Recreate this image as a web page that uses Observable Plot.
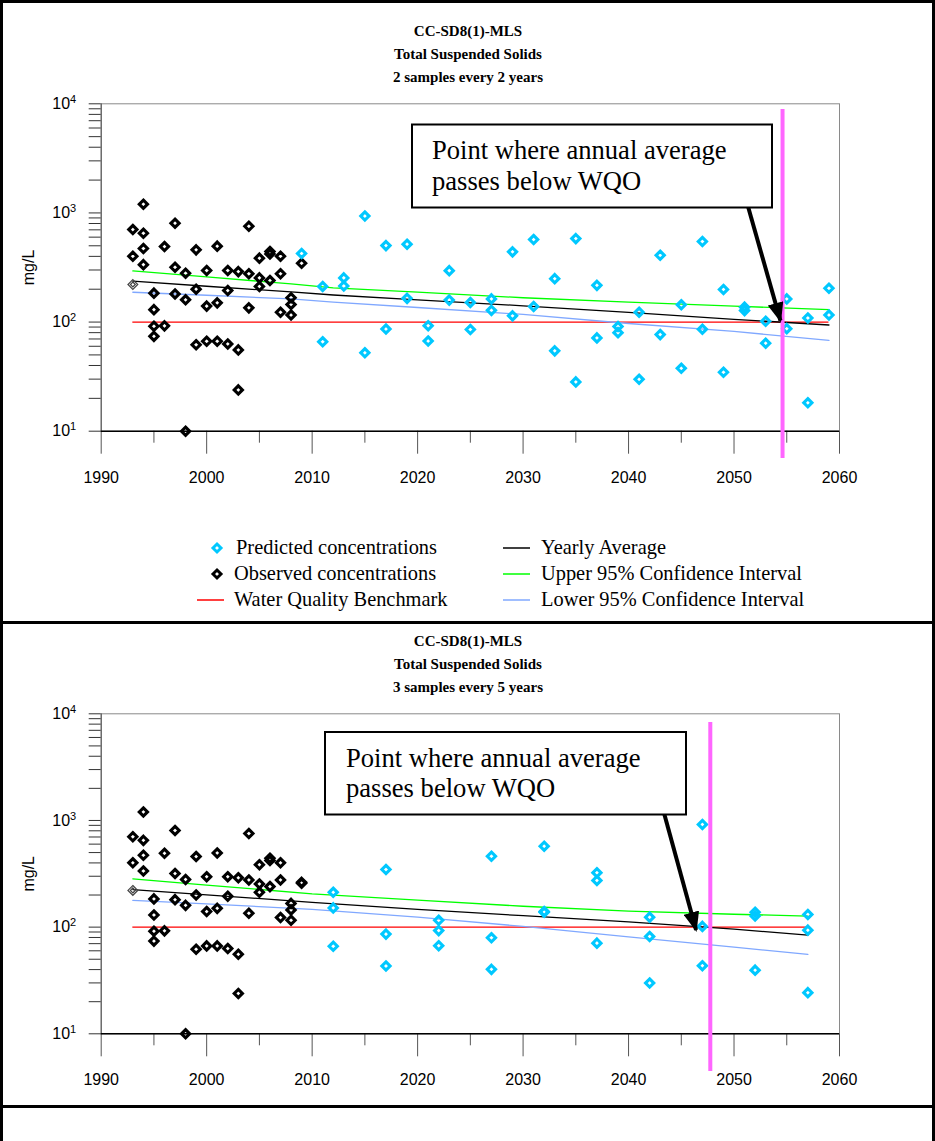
<!DOCTYPE html>
<html><head><meta charset="utf-8">
<script src="https://cdn.jsdelivr.net/npm/d3@7"></script>
<script src="https://cdn.jsdelivr.net/npm/@observablehq/plot@0.6"></script>
<style>
body{margin:0;background:#fff}
#page{position:relative;width:935px;height:1141px;overflow:hidden;background:#fff}
.panel{position:absolute;left:0;width:935px;box-sizing:border-box;border:3px solid #000}
svg.plotsvg{position:absolute;left:0}
svg#overlay{position:absolute;left:0;top:0}
</style></head><body><div id="page"></div>
<script>
// ---------- axis ticks ----------
const majorX = [1990, 2000, 2010, 2020, 2030, 2040, 2050, 2060];
const minorX = [1995, 2005, 2015, 2025, 2035, 2045, 2055];
const majorY = [10, 100, 1000, 10000];
const minorMult = [2, 3, 4, 5, 6, 7, 8, 9];

// ---------- observed concentrations (shared) ----------
const observedYear = [1993,1993,1994,1994,1994,1994,1995,1995,1995,1995,1996,1996,1997,1997,1997,1998,1998,1998,1999,1999,1999,2000,2000,2000,2001,2001,2001,2002,2002,2002,2003,2003,2003,2004,2004,2004,2005,2005,2005,2006,2006,2006,2007,2007,2007,2008,2008,2008];
const observedValue = [704,401,1202,651,472,336,184,130,91.6,74,492,92.3,805,318,181,280,160,10,459,200,62,297,140,66.7,496,150,66.7,297,194.5,63,290,55.6,23.9,755,277,135,385,254,212,443,421,240,401,277,123,167,145,116];
const firstYear = 1993, firstValue = 221;
const benchmark = 100, benchmarkStart = 1993;

// ---------- panel 1: 2 samples every 2 years ----------
const obs2009Panel1 = [346];
const pred1Year = [2009,2011,2011,2013,2013,2015,2015,2017,2017,2019,2019,2021,2021,2023,2023,2025,2025,2027,2027,2029,2029,2031,2031,2033,2033,2035,2035,2037,2037,2039,2039,2041,2041,2043,2043,2045,2045,2047,2047,2049,2049,2051,2051,2053,2053,2055,2055,2057,2057,2059,2059];
const pred1Value = [425,212,66,254,214,936,52.3,502,86.3,517,165,92.6,67,296,159,151,85.5,163,128,440,114,570,139,250,54.5,582,28.3,217,71.6,91,80,123,29.9,409,76.8,144,37.7,547,86,199,34.7,137,127.4,101.7,64,163,87,109,18.2,204,116];
const trend1Year = [1993, 2000, 2008, 2012, 2020, 2030, 2040, 2050, 2059];
const avg1 = [237, 213, 189, 177, 160, 141, 122.5, 106, 94];
const upper1 = [294, 259, 224, 206, 188, 167, 152, 140, 130];
const lower1 = [187.5, 176, 163, 152, 136, 117.5, 97, 82, 68];
const cross1 = 2054.6;
const arrow1 = [2051.3, 1169, 2054.4, 103];

// ---------- panel 2: 3 samples every 5 years ----------
const obs2009Panel2 = [258, 263];
const pred2Year = [2012,2012,2012,2017,2017,2017,2022,2022,2022,2027,2027,2027,2032,2032,2032,2037,2037,2037,2042,2042,2042,2047,2047,2047,2052,2052,2052,2057,2057,2057];
const pred2Value = [212,151.5,66.2,347,86,43.2,116,92.8,67,462,79.5,40.2,574,140,138,324,274,70.8,124,81.8,29.9,918,101.6,43.5,138,127,39.5,131.5,93.7,24.3];
const trend2Year = [1993, 2000, 2010, 2020, 2030, 2040, 2050, 2057];
const avg2 = [225, 201, 171, 147, 128, 112, 96, 84];
const upper2 = [284, 248, 205, 179, 157, 141, 132, 127];
const lower2 = [178, 165, 147, 124, 101.6, 81, 65, 55.5];
const cross2 = 2047.75;
const arrow2 = [2043.4, 1138, 2046.4, 94];

const titleLines1 = ["CC-SD8(1)-MLS", "Total Suspended Solids", "2 samples every 2 years"];
const titleLines2 = ["CC-SD8(1)-MLS", "Total Suspended Solids", "3 samples every 5 years"];
const noteLines = ["Point where annual average", "passes below WQO"];
const legendLeft = ["Predicted concentrations", "Observed concentrations", "Water Quality Benchmark"];
const legendRight = ["Yearly Average", "Upper 95% Confidence Interval", "Lower 95% Confidence Interval"];

const CYAN = "#00c8ff", GREEN = "#00ff00", BLUE = "#80a8ff", RED = "#ff0000", MAGENTA = "#ff66ff";
const page = document.getElementById("page");

// panel borders
[[0, 624], [621, 487], [1105, 60]].forEach(([t, h]) => {
  const d = document.createElement("div");
  d.className = "panel"; d.style.top = t + "px"; d.style.height = h + "px";
  page.appendChild(d);
});

function makePlot(p) {
  const obs = observedYear.map((x, i) => ({x, y: observedValue[i]}))
    .concat(p.obs2009.map(y => ({x: 2009, y})));
  const pred = p.predYear.map((x, i) => ({x, y: p.predValue[i]}));
  const trend = p.trendYear.map((x, i) => ({x, avg: p.avg[i], upper: p.upper[i], lower: p.lower[i]}));
  const minorY = majorY.slice(0, -1).flatMap(d => minorMult.map(k => k * d));
  const svg = Plot.plot({
    width: 935, height: 400,
    marginLeft: 100.7, marginRight: 96, marginTop: 13.3, marginBottom: p.marginBottom,
    x: {domain: [1990, 2060], axis: null},
    y: {type: "log", domain: [10, 10000], axis: null},
    style: {fontFamily: '"Liberation Sans", Arial, sans-serif', fontSize: "16px", color: "#000", background: "transparent", overflow: "visible"},
    marks: [
      Plot.frame({stroke: "#8a8a8a"}),
      Plot.ruleX([1990], {stroke: "#505050"}),
      Plot.axisY({ticks: minorY, tickSize: 12, tickFormat: () => "", stroke: "#333", label: null}),
      Plot.axisY({ticks: majorY, tickSize: 12, tickPadding: 13, tickFormat: d => "10^" + Math.round(Math.log10(d)),
        stroke: "#333", label: "mg/L", labelAnchor: "center", labelArrow: "none", labelOffset: 79}),
      Plot.axisX({ticks: minorX, tickSize: 12, tickFormat: () => "", stroke: "#555", label: null}),
      Plot.axisX({ticks: majorX, tickSize: 23, tickPadding: 17, tickFormat: d => String(d), stroke: "#555", label: null}),
      Plot.ruleY([10], {stroke: "#000", strokeWidth: 1.5}),
      Plot.ruleY([benchmark], {x1: benchmarkStart, x2: p.trendYear[p.trendYear.length - 1], stroke: RED, strokeWidth: 1.3}),
      Plot.line(trend, {x: "x", y: "upper", stroke: GREEN, strokeWidth: 1.3}),
      Plot.line(trend, {x: "x", y: "lower", stroke: BLUE, strokeWidth: 1.3}),
      Plot.line(trend, {x: "x", y: "avg", stroke: "#000", strokeWidth: 1.3}),
      Plot.dot(obs, {x: "x", y: "y", symbol: "diamond2", r: 3.7, stroke: "#000", strokeWidth: 3.1}),
      Plot.dot(pred, {x: "x", y: "y", symbol: "diamond2", r: 3.7, stroke: CYAN, strokeWidth: 3.1}),
      Plot.dot([{x: firstYear, y: firstValue}], {x: "x", y: "y", symbol: "diamond2", r: 4.4, stroke: "#444", strokeWidth: 1.2}),
      Plot.dot([{x: firstYear, y: firstValue}], {x: "x", y: "y", symbol: "diamond2", r: 2.2, stroke: "#444", strokeWidth: 1.2}),
      Plot.ruleX([p.cross], {stroke: MAGENTA, strokeWidth: 4, insetTop: p.insetTop, insetBottom: p.insetBottom}),
      Plot.link([p.arrow], {x1: d => d[0], y1: d => d[1], x2: d => d[2], y2: d => d[3], stroke: "#000", strokeWidth: 4})
    ]
  });
  svg.classList.add("plotsvg");
  svg.style.top = p.svgTop + "px";
  // superscript tick labels
  d3.select(svg).selectAll('g[aria-label="y-axis tick label"] text').each(function () {
    const t = this.textContent;
    if (t.indexOf("^") < 0) return;
    const [base, exp] = t.split("^");
    const sel = d3.select(this);
    sel.text(null);
    sel.append("tspan").text(base);
    sel.append("tspan").attr("dy", "-0.55em").attr("font-size", "11px").text(exp);
  });
  // filled arrow head
  const defs = d3.select(svg).insert("defs", ":first-child");
  const id = "head" + p.svgTop;
  defs.append("marker").attr("id", id).attr("viewBox", "-18 -8 20 16")
    .attr("markerWidth", 20).attr("markerHeight", 16).attr("markerUnits", "userSpaceOnUse")
    .attr("refX", 0).attr("refY", 0).attr("orient", "auto")
    .append("path").attr("d", "M-18,-8L2,0L-18,8Z").attr("fill", "#000");
  d3.select(svg).selectAll('g[aria-label="link"] path').attr("marker-end", `url(#${id})`);
  page.appendChild(svg);
}

makePlot({svgTop: 90, marginBottom: 59.3, obs2009: obs2009Panel1, predYear: pred1Year, predValue: pred1Value,
  trendYear: trend1Year, avg: avg1, upper: upper1, lower: lower1, cross: cross1, insetTop: 5.7, insetBottom: -27.3, arrow: arrow1});
makePlot({svgTop: 700, marginBottom: 66.7, obs2009: obs2009Panel2, predYear: pred2Year, predValue: pred2Value,
  trendYear: trend2Year, avg: avg2, upper: upper2, lower: lower2, cross: cross2, insetTop: 8.7, insetBottom: -37.7, arrow: arrow2});

// ---------- overlay: titles, notes, legend ----------
const ov = d3.select(page).append("svg").attr("id", "overlay").attr("width", 935).attr("height", 1141)
  .attr("font-family", '"Liberation Serif", "Times New Roman", serif');
function titles(lines, baselines) {
  lines.forEach((s, i) => ov.append("text").attr("x", 468).attr("y", baselines[i]).attr("text-anchor", "middle")
    .attr("font-weight", "bold").attr("font-size", 15).text(s));
}
titles(titleLines1, [35.5, 58.5, 81.5]);
titles(titleLines2, [645.5, 668.5, 691.5]);
function note(box, tx, b1, b2) {
  ov.append("rect").attr("x", box[0]).attr("y", box[1]).attr("width", box[2]).attr("height", box[3])
    .attr("fill", "#fff").attr("stroke", "#000").attr("stroke-width", 2);
  ov.append("text").attr("x", tx).attr("y", b1).attr("font-size", 26.6).text(noteLines[0]);
  ov.append("text").attr("x", tx).attr("y", b2).attr("font-size", 26.6).text(noteLines[1]);
}
note([412, 124.5, 360, 83], 432, 159, 190);
note([325, 732, 361, 82.5], 346, 767, 797);

const rows = [548, 574, 600];
function diamond(g, x, y, color) {
  g.append("path").attr("d", `M${x},${y - 4}L${x + 4},${y}L${x},${y + 4}L${x - 4},${y}Z`)
    .attr("fill", "none").attr("stroke", color).attr("stroke-width", 3);
}
diamond(ov, 217, rows[0], CYAN);
diamond(ov, 217, rows[1], "#000");
ov.append("line").attr("x1", 197).attr("x2", 224).attr("y1", rows[2]).attr("y2", rows[2]).attr("stroke", RED).attr("stroke-width", 1.5);
[236, 234, 234].forEach((x, i) => ov.append("text").attr("x", x).attr("y", rows[i] + 6).attr("font-size", 20.4).text(legendLeft[i]));
[["#000"], [GREEN], [BLUE]].forEach(([c], i) => {
  ov.append("line").attr("x1", 503).attr("x2", 530).attr("y1", rows[i]).attr("y2", rows[i]).attr("stroke", c).attr("stroke-width", 1.5);
  ov.append("text").attr("x", 541).attr("y", rows[i] + 6).attr("font-size", 20.4).text(legendRight[i]);
});
</script></body></html>
